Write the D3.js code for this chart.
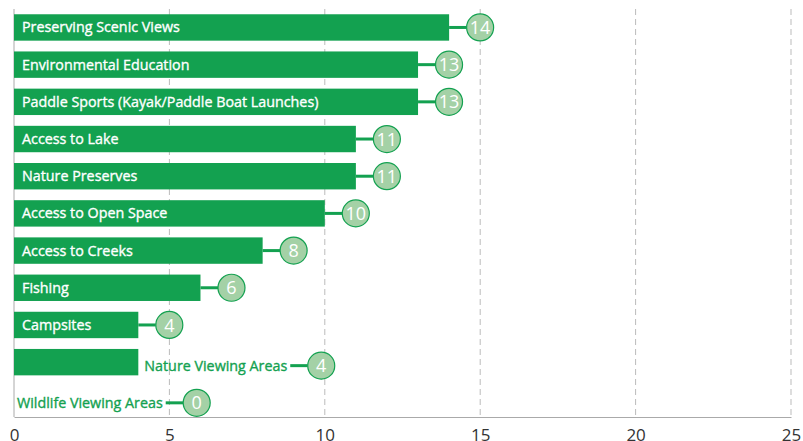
<!DOCTYPE html>
<html><head><meta charset="utf-8">
<script src="https://cdn.jsdelivr.net/npm/d3@7"></script>
<style>body{margin:0;background:#fff}svg{display:block}text{font-family:"Open Sans",sans-serif}</style>
</head><body><svg id="c" width="803" height="441"></svg>
<script>
const categories = ["Preserving Scenic Views","Environmental Education","Paddle Sports (Kayak/Paddle Boat Launches)","Access to Lake","Nature Preserves","Access to Open Space","Access to Creeks","Fishing","Campsites","Nature Viewing Areas","Wildlife Viewing Areas"];
const values = [14,13,13,11,11,10,8,6,4,4,0];
const xTicks = [0,5,10,15,20,25];

(function(){
const svg = d3.select("#c");
const green = "#13a150", bubbleFill = "#a4d1a6";
const x = d3.scaleLinear().domain([0,25]).range([14,791]);
const y = d3.scaleBand().domain(categories).range([9.8,417]).paddingInner(0.29).paddingOuter(0.12);
const yTop = 9, yBottom = 417;

svg.append("g").selectAll("line").data(xTicks.filter(d=>d>0)).join("line")
  .attr("x1",d=>x(d)).attr("x2",d=>x(d)).attr("y1",yTop).attr("y2",yBottom)
  .attr("stroke","#bbb").attr("stroke-dasharray","6,4").attr("stroke-width",1);

svg.append("line").attr("x1",x(0)).attr("x2",x(0)).attr("y1",yTop).attr("y2",yBottom).attr("stroke","#aaa");
const xAxis = d3.axisBottom(x).tickValues(xTicks).tickSize(0).tickPadding(0);
const ax = svg.append("g").attr("transform",`translate(0,${yBottom})`).call(xAxis);
ax.select(".domain").attr("stroke","#aaa");
ax.selectAll("text").attr("font-size",17).attr("fill","#333").attr("dy",null).attr("y",24)
  .attr("font-family","'Open Sans',sans-serif");

const rows = categories.map((c,i)=>({c, v:values[i]}));
const g = svg.append("g");
const r = 13.5;
rows.forEach(d=>{
  const y0 = y(d.c), bw = y.bandwidth(), cy = y0 + bw/2;
  const x1 = x(d.v);
  g.append("rect").attr("x",x(0)).attr("y",y0).attr("width",x1-x(0)).attr("height",bw).attr("fill",green);
  const t = g.append("text").text(d.c).attr("font-size",14.3).attr("font-weight",400).attr("stroke-width",0.35);
  const tw = t.node().getComputedTextLength();
  let cx, lineStart, ty = cy;
  if (tw + 16 <= x1 - x(0)) {
    t.attr("x",x(0)+8).attr("y",cy).attr("dy","0.35em").attr("fill","#fff").attr("stroke","#fff");
    cx = x1 + 31; lineStart = x1;
  } else {
    ty = cy + 3.5;
    const sx = d.v > 0 ? x1 + 6 : x1 + 3;
    t.attr("x",sx).attr("y",ty).attr("dy","0.35em").attr("fill",green).attr("stroke",green);
    cx = sx + tw + 34; lineStart = sx + tw + 3;
  }
  g.append("line").attr("x1",lineStart).attr("x2",cx - r).attr("y1",ty).attr("y2",ty)
    .attr("stroke",green).attr("stroke-width",3);
  g.append("circle").attr("cx",cx).attr("cy",ty).attr("r",r).attr("fill",bubbleFill).attr("stroke",green).attr("stroke-width",1.2);
  g.append("text").text(d.v).attr("x",cx).attr("y",ty).attr("dy","0.37em").attr("text-anchor","middle")
    .attr("fill","#fff").attr("font-size",18);
});
})();
</script></body></html>
